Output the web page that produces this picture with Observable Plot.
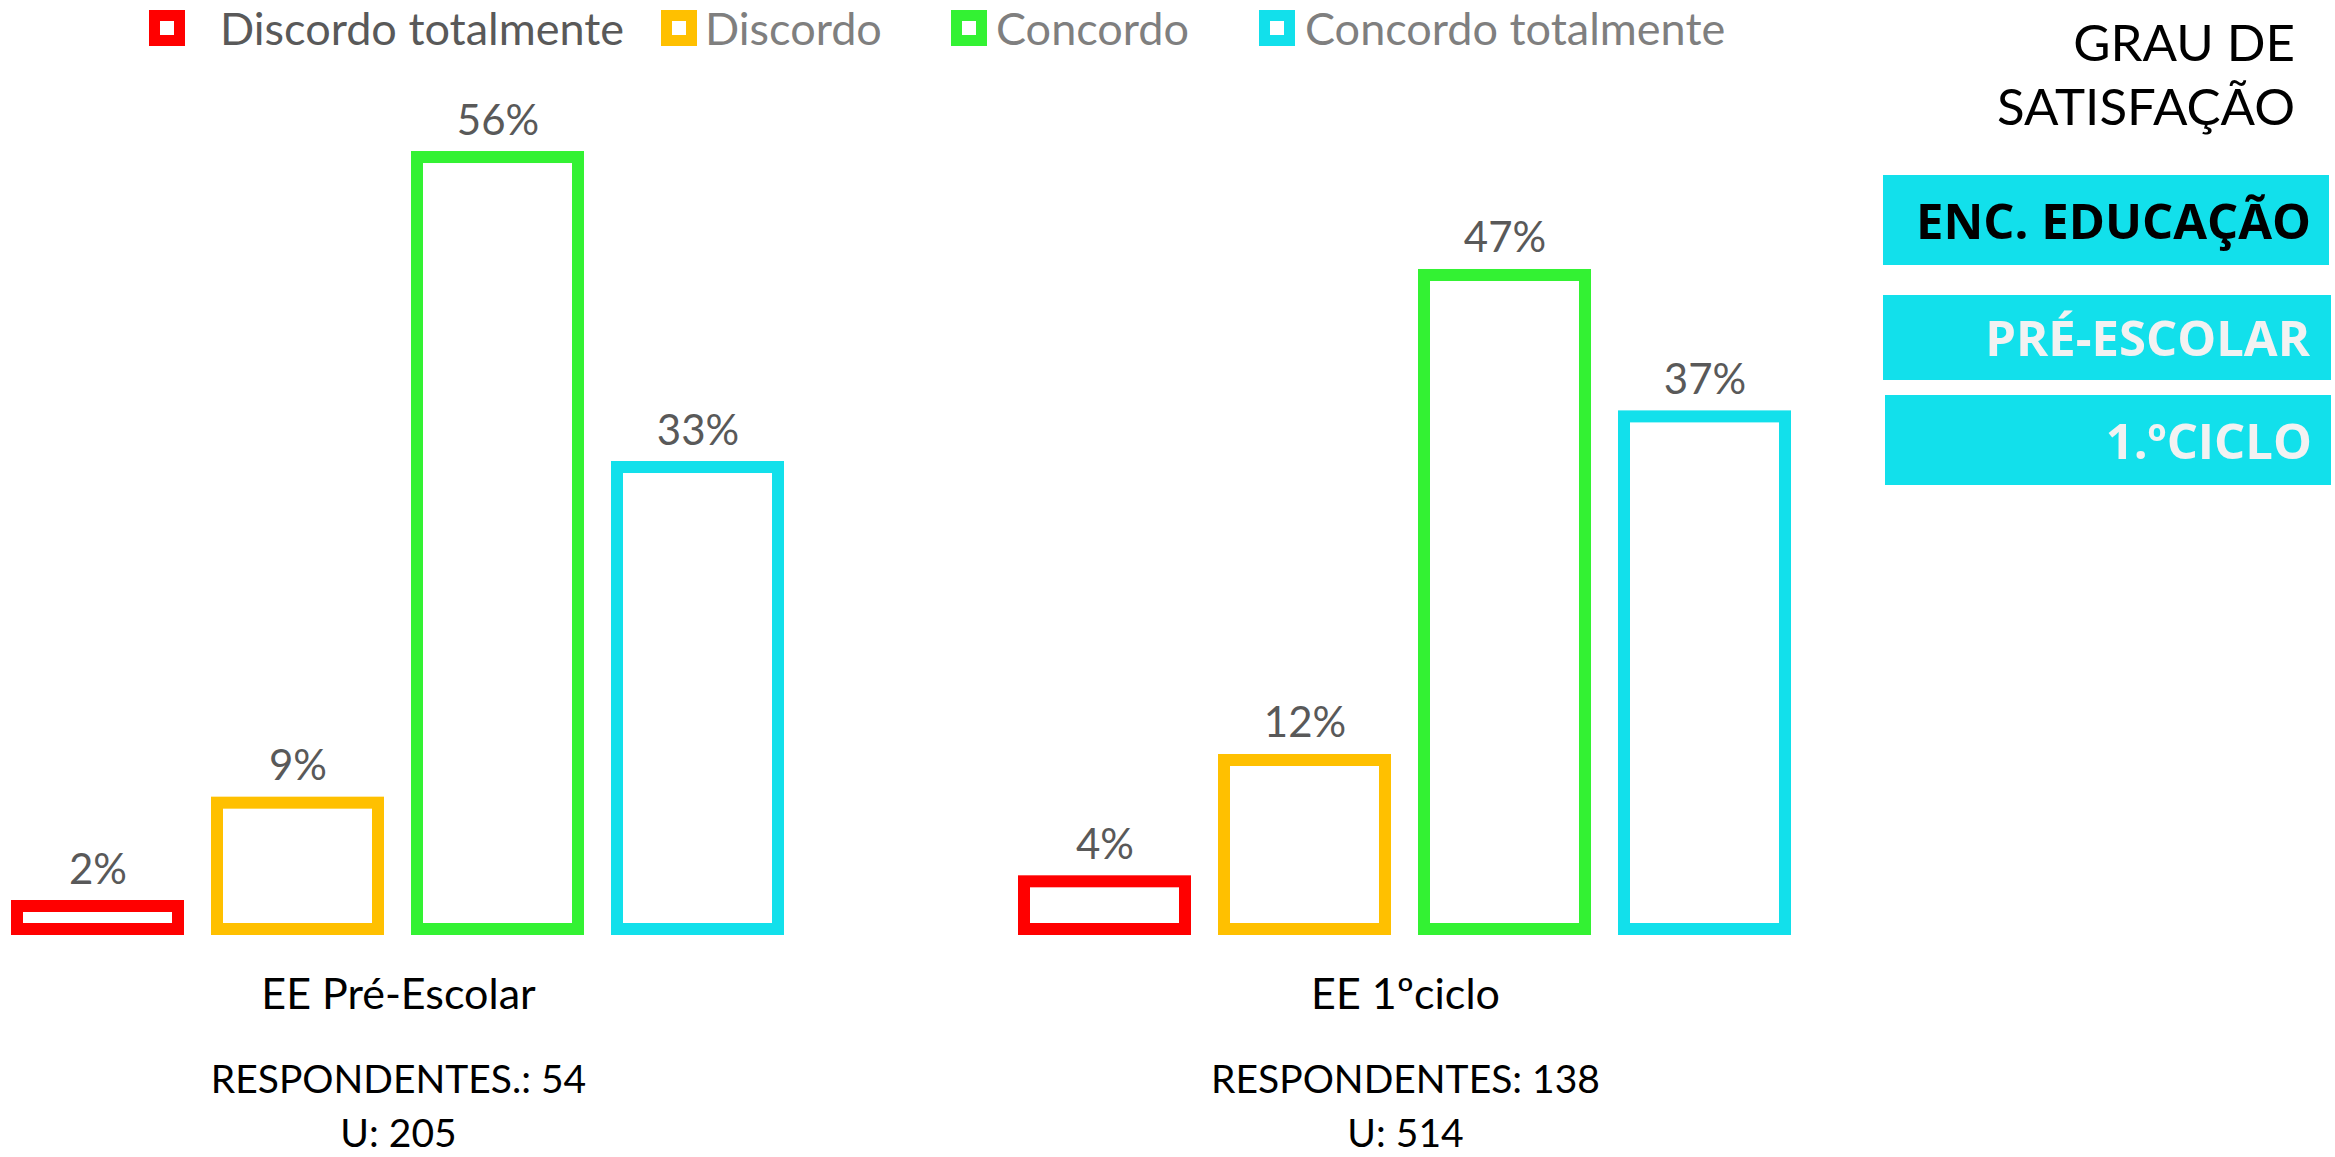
<!DOCTYPE html>
<html>
<head>
<meta charset="utf-8">
<script src="https://cdn.jsdelivr.net/npm/d3@7"></script>
<script src="https://cdn.jsdelivr.net/npm/@observablehq/plot@0.6"></script>
<style>
  body { margin: 0; background: #fff; }
  #wrap { position: relative; width: 2335px; height: 1157px; overflow: hidden; font-family: Lato, sans-serif; background: #fff; }
  #legend { position: relative; height: 60px; }
  .sw { position: absolute; top: 10px; width: 14px; height: 14px; border: 11px solid; background: #fff; }
  .lt { position: absolute; top: 1px; font-size: 45px; line-height: 54px; white-space: nowrap; }
  #title { position: absolute; right: 40px; top: 10px; text-align: right; font-size: 51px; line-height: 64px; color: #000; z-index: 2; }
  .box { position: absolute; background: #12E0EB; display: flex; align-items: center; justify-content: flex-end; box-sizing: border-box;
         font-family: "Open Sans", sans-serif; font-weight: 700; font-size: 49px; line-height: 49px; white-space: nowrap; z-index: 2; }
  #chart { position: relative; }
</style>
</head>
<body>
<div id="wrap">
  <div id="legend"></div>
  <div id="title"></div>
  <div id="chart"></div>
</div>
<script>
// ---- data ----
const groups = ["EE Pré-Escolar", "EE 1ºciclo"];
const categories = ["Discordo totalmente", "Discordo", "Concordo", "Concordo totalmente"];
const colors = ["#FF0000", "#FFC000", "#33F233", "#12E0EB"];
const preEscolar = [1.85, 9.26, 55.56, 33.33];
const primeiroCiclo = [3.62, 12.32, 47.10, 36.96];
const respondentes = ["RESPONDENTES.: 54", "RESPONDENTES: 138"];
const universo = ["U: 205", "U: 514"];
const panelTitle = ["GRAU DE", "SATISFAÇÃO"];
const panelBoxes = ["ENC. EDUCAÇÃO", "PRÉ-ESCOLAR", "1.ºCICLO"];

// ---- legend (HTML above the SVG) ----
const legendSwatchLeft = [149, 661, 951, 1259];
const legendTextLeft = [220, 705, 996, 1305];
const legendTextColor = ["#595959", "#7F7F7F", "#7F7F7F", "#7F7F7F"];
const legend = document.getElementById("legend");
categories.forEach((c, i) => {
  const sw = document.createElement("div");
  sw.className = "sw";
  sw.style.left = legendSwatchLeft[i] + "px";
  sw.style.borderColor = colors[i];
  legend.appendChild(sw);
  const t = document.createElement("div");
  t.className = "lt";
  t.style.left = legendTextLeft[i] + "px";
  t.style.color = legendTextColor[i];
  t.textContent = c;
  legend.appendChild(t);
});

// ---- right panel ----
document.getElementById("title").innerHTML = panelTitle.join("<br>");
const boxGeom = [
  {left: 1883, top: 175, w: 446, h: 90, pr: 18, color: "#000000"},
  {left: 1883, top: 295, w: 448, h: 85, pr: 21, color: "#F2F2F2"},
  {left: 1885, top: 395, w: 446, h: 90, pr: 19, color: "#F2F2F2"}
];
const wrap = document.getElementById("wrap");
panelBoxes.forEach((txt, i) => {
  const g = boxGeom[i];
  const b = document.createElement("div");
  b.className = "box";
  Object.assign(b.style, {left: g.left + "px", top: g.top + "px", width: g.w + "px", height: g.h + "px", paddingRight: g.pr + "px", color: g.color});
  b.textContent = txt;
  wrap.appendChild(b);
});

// ---- chart ----
const rows = [];
[preEscolar, primeiroCiclo].forEach((vals, g) =>
  vals.forEach((v, i) => rows.push({group: groups[g], category: categories[i], value: v}))
);
const groupInfo = groups.map((g, i) => ({group: g, resp: respondentes[i], u: universo[i]}));

const chart = Plot.plot({
  width: 2335,
  height: 1097,
  marginLeft: 15,
  marginRight: 547,
  marginTop: 35,
  marginBottom: 225,
  style: {fontFamily: "Lato, sans-serif", background: "white", overflow: "visible"},
  fx: {domain: groups, paddingInner: 0.241, paddingOuter: 0, axis: null, label: null},
  x: {domain: categories, paddingInner: 0.194, paddingOuter: 0, axis: null},
  y: {domain: [0, 60], range: [871.8, 35.1], axis: null},
  color: {domain: categories, range: colors},
  marks: [
    Plot.barY(rows, {fx: "group", x: "category", y: "value", stroke: "category", fill: "white", strokeWidth: 12, insetBottom: 2.8}),
    Plot.text(rows, {fx: "group", x: "category", y: "value", text: d => Math.round(d.value) + "%",
      lineAnchor: "bottom", dy: -23, fontSize: 42, fill: "#595959"}),
    Plot.text(groupInfo, {fx: "group", y: () => 0, text: "group", dy: 63, fontSize: 43, fill: "#000"}),
    Plot.text(groupInfo, {fx: "group", y: () => 0, text: "resp", dy: 148, fontSize: 39, fill: "#000"}),
    Plot.text(groupInfo, {fx: "group", y: () => 0, text: "u", dy: 202, fontSize: 39, fill: "#000"})
  ]
});
document.getElementById("chart").appendChild(chart);
</script>
</body>
</html>
